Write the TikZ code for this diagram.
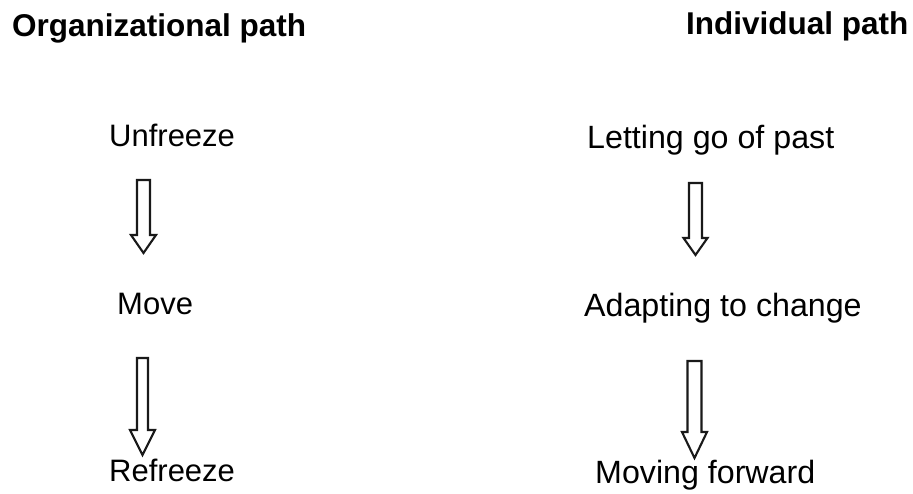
\documentclass[tikz,border=0pt]{standalone}
\usepackage{fontspec}
\setmainfont{Liberation Sans}
\newcommand\hollowarrow[6]{% centre x, shaft half width, top, head base, head half width, tip
  \draw[hollow] ({#1-#2},#3) -- ({#1+#2},#3) -- ({#1+#2},#4) -- ({#1+#5},#4)
    -- (#1,#6) -- ({#1-#5},#4) -- ({#1-#2},#4) -- cycle;}
\begin{document}
\begin{tikzpicture}[x=1pt,y=-1pt,
  heading/.style={anchor=base west,inner sep=0pt,font=\fontsize{31.5}{36}\selectfont\bfseries},
  stage/.style={anchor=base west,inner sep=0pt,font=\fontsize{31}{36}\selectfont},
  stageR/.style={stage,font=\fontsize{32.2}{36}\selectfont},
  hollow/.style={draw=black!90,line width=2.1pt,fill=white,line join=miter}]
\fill[white] (0,0) rectangle (913,494);
\useasboundingbox (0,0) rectangle (913,494);

% column headings
\node[heading] (orghead) at (12,37) {Organizational path};
\node[heading] (indhead) at (686,35) {Individual path};

% organizational stages
\node[stage] (unfreeze) at (109,147) {Unfreeze};
\node[stage] (move) at (117,315) {Move};
\node[stage] (refreeze) at (109,481) {Refreeze};

% individual stages
\node[stageR] (letgo) at (587,149) {Letting go of past};
\node[stageR] (adapt) at (584,317) {Adapting to change};
\node[stageR] (forward) at (595,483) {Moving forward};

% hollow block arrows between stages
\hollowarrow{143.5}{6.5}{180}{235}{12.5}{253}
\hollowarrow{142.5}{5.5}{358}{430}{12.5}{455}
\hollowarrow{695.5}{6.5}{183}{238}{12}{255}
\hollowarrow{694.5}{7}{361}{432}{12.5}{458}
\end{tikzpicture}
\end{document}
